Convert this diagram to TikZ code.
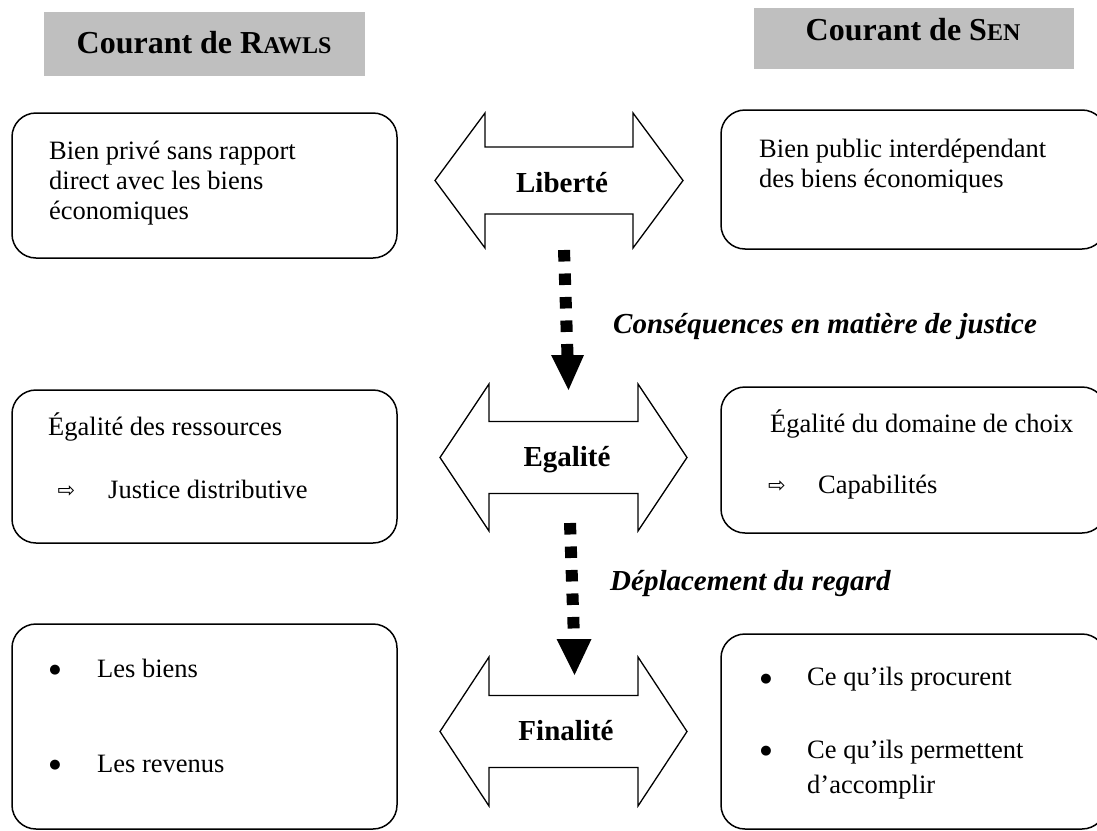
\documentclass[tikz,border=0pt]{standalone}
\usepackage{fontspec}
\setmainfont{Liberation Serif}
\newfontfamily\symfont{DejaVu Sans}
\definecolor{hdrgray}{HTML}{BFBFBF}
\newcommand\mysc[1]{{\fontsize{24}{24}\selectfont #1}}
\tikzset{
  hdrbox/.style={fill=hdrgray, draw=none, inner sep=0pt},
  header/.style={anchor=base, inner sep=0pt, font=\bfseries\fontsize{32}{38}\selectfont},
  roundbox/.style={draw, line width=1.5pt, rounded corners=24pt, inner sep=0pt},
  body/.style={anchor=base west, inner sep=0pt, font=\fontsize{26.5}{30}\selectfont},
  bul/.style={inner sep=0pt, font=\symfont\fontsize{13}{13}\selectfont},
  darr/.style={inner sep=0pt, font=\symfont\fontsize{21}{21}\selectfont},
  blockarr/.style={draw, line width=1.3pt, fill=white, line join=miter},
  arrlabel/.style={anchor=base, inner sep=0pt, font=\bfseries\fontsize{29}{34}\selectfont},
  ital/.style={anchor=base west, inner sep=0pt, font=\bfseries\itshape\fontsize{29}{34}\selectfont},
  dotline/.style={line width=12pt, dash pattern=on 11.5pt off 12pt},
}
% #1 cx, #2 cy, #3 half length, #4 notch offset, #5 head half height, #6 shaft half height
\newcommand\blockarrow[6]{%
  \draw[blockarr] ({#1-#3},{#2}) -- ({#1-#4},{#2-#5}) -- ({#1-#4},{#2-#6})
    -- ({#1+#4},{#2-#6}) -- ({#1+#4},{#2-#5}) -- ({#1+#3},{#2})
    -- ({#1+#4},{#2+#5}) -- ({#1+#4},{#2+#6}) -- ({#1-#4},{#2+#6})
    -- ({#1-#4},{#2+#5}) -- cycle;}
\begin{document}
\begin{tikzpicture}[x=1pt,y=-1pt]
\useasboundingbox (0,0) rectangle (1097,830);
\clip (0,0) rectangle (1097,830);

% headers
\node[hdrbox, minimum width=321pt, minimum height=64pt] (hdrR) at (204.5,44) {};
\node[header] (hdrRt) at (204,53) {Courant de R\mysc{AWLS}};
\node[hdrbox, minimum width=320pt, minimum height=61pt] (hdrS) at (914,38.5) {};
\node[header] (hdrSt) at (913,40.5) {Courant de S\mysc{EN}};

% rounded boxes
\node[roundbox, minimum width=385pt, minimum height=145pt] (b1) at (204.5,185.5) {};
\node[roundbox, minimum width=385pt, minimum height=139pt] (b2) at (913.5,179.5) {};
\node[roundbox, minimum width=385pt, minimum height=153pt] (b3) at (204.5,466.5) {};
\node[roundbox, minimum width=385pt, minimum height=146pt] (b4) at (913.5,460) {};
\node[roundbox, minimum width=385pt, minimum height=205pt] (b5) at (204.5,726.5) {};
\node[roundbox, minimum width=385pt, minimum height=195pt] (b6) at (913.5,731.5) {};

% texts in boxes
\node[body] (t11) at (49,159) {Bien privé sans rapport};
\node[body] (t12) at (49,189) {direct avec les biens};
\node[body] (t13) at (49,219) {économiques};

\node[body] (t21) at (759,157) {Bien public interdépendant};
\node[body] (t22) at (759,187) {des biens économiques};

\node[body] (t31) at (48,435) {Égalité des ressources};
\node[darr] (a31) at (66.5,492) {⇨};
\node[body] (t32) at (108,498) {Justice distributive};

\node[body] (t41) at (770,432) {Égalité du domaine de choix};
\node[darr] (a41) at (777,487) {⇨};
\node[body] (t42) at (818,493) {Capabilités};

\node[bul] (p51) at (55,670) {●};
\node[body] (t51) at (97,677) {Les biens};
\node[bul] (p52) at (55,765) {●};
\node[body] (t52) at (97,772) {Les revenus};

\node[bul] (p61) at (766,679) {●};
\node[body] (t61) at (807,685) {Ce qu’ils procurent};
\node[bul] (p62) at (766,751) {●};
\node[body] (t62) at (807,758) {Ce qu’ils permettent};
\node[body] (t63) at (807,793) {d’accomplir};

% block arrows
\blockarrow{559}{180.5}{124}{74}{67.5}{33.5}
\node[arrlabel] (lib) at (562,192) {Liberté};
\blockarrow{563.5}{457.5}{123.5}{74.5}{73.5}{36}
\node[arrlabel] (ega) at (567,466) {Egalité};
\blockarrow{563.5}{731.5}{123.5}{74.5}{74.5}{36}
\node[arrlabel] (fin) at (566,740) {Finalité};

% dotted connectors
\coordinate (d1s) at (564,250);
\coordinate (d1n) at (567.5,355);
\coordinate (d1t) at (568.5,390);
\draw[dotline] (d1s) -- (d1n);
\fill ([xshift=-16.5pt]d1n) -- ([xshift=16.5pt]d1n) -- (d1t) -- cycle;

\coordinate (d2s) at (570,523);
\coordinate (d2n) at (574,639);
\coordinate (d2t) at (574.5,675);
\draw[dotline] (d2s) -- (d2n);
\fill ([xshift=-17.5pt]d2n) -- ([xshift=17.5pt]d2n) -- (d2t) -- cycle;

% italic labels
\node[ital] (cons) at (613,333) {Conséquences en matière de justice};
\node[ital] (depl) at (610,590) {Déplacement du regard};
\end{tikzpicture}
\end{document}
